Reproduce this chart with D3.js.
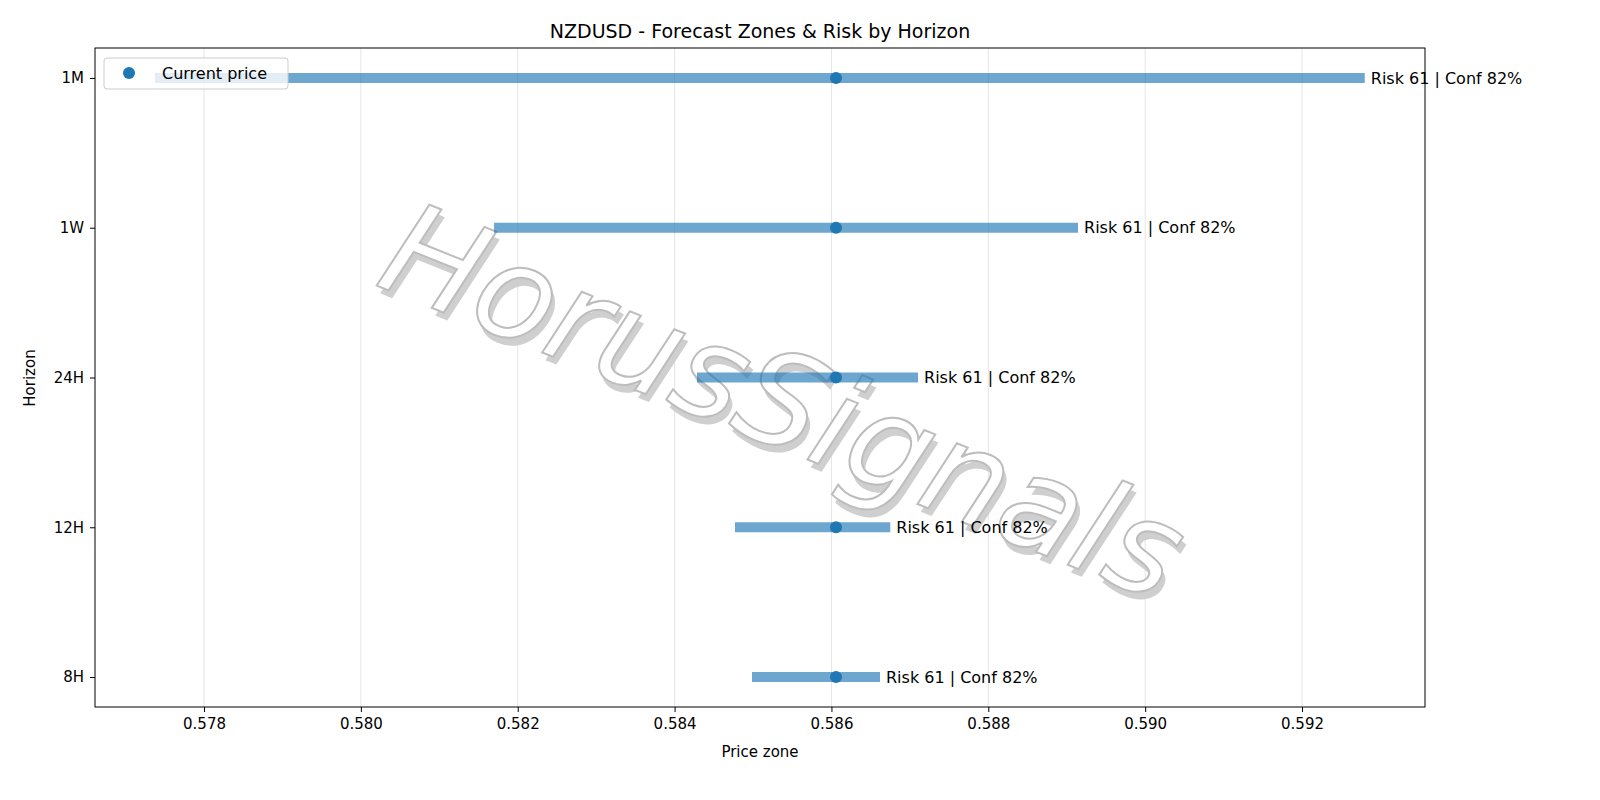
<!DOCTYPE html>
<html><head><meta charset="utf-8">
<script src="https://cdn.jsdelivr.net/npm/d3@7"></script>
<style>body{margin:0;background:#fff}text{font-family:"DejaVu Sans",sans-serif}</style>
</head><body><svg id="c" width="1600" height="800"></svg>
<script>
const horizons=["1M","1W","24H","12H","8H"];
const lows=[0.577375,0.581698,0.584286,0.58477,0.584987];
const highs=[0.5928,0.589144,0.587104,0.58675,0.586619];
const current=0.586058;
const labels=["Risk 61 | Conf 82%","Risk 61 | Conf 82%","Risk 61 | Conf 82%","Risk 61 | Conf 82%","Risk 61 | Conf 82%"];
const xTicks=[0.578,0.580,0.582,0.584,0.586,0.588,0.590,0.592];

const svg=d3.select("#c");
const L=95,R=1425,T=48,B=707;
const x=d3.scaleLinear().domain([0.57661,0.593568]).range([L,R]);
const y=d3.scaleLinear().domain([-0.2,4.2]).range([T,B]);
// grid
svg.append("g").selectAll("line").data(xTicks).join("line")
 .attr("x1",d=>x(d)).attr("x2",d=>x(d)).attr("y1",T).attr("y2",B)
 .attr("stroke","#e5e5e5").attr("stroke-width",1);
// watermark
const wm=svg.append("g").attr("transform","translate(780,410) rotate(22)");
wm.append("text").attr("x",6).attr("y",6).attr("text-anchor","middle").attr("font-size",130).attr("font-style","italic").attr("fill","#cfcfcf").attr("dominant-baseline","middle").text("HorusSignals");
wm.append("text").attr("text-anchor","middle").attr("font-size",130).attr("font-style","italic").attr("fill","#fff").attr("stroke","#bdbdbd").attr("stroke-width",2).attr("dominant-baseline","middle").text("HorusSignals");
// bars
horizons.forEach((h,i)=>{
 svg.append("line").attr("x1",x(lows[i])).attr("x2",x(highs[i])).attr("y1",y(i)).attr("y2",y(i))
  .attr("stroke","#1f77b4").attr("stroke-opacity",0.65).attr("stroke-width",10);
 svg.append("circle").attr("cx",x(current)).attr("cy",y(i)).attr("r",6).attr("fill","#1f77b4");
 svg.append("text").attr("x",x(highs[i])+6).attr("y",y(i)).attr("dy","0.35em").attr("font-size",16).text(labels[i]);
});
// frame
svg.append("rect").attr("x",L).attr("y",T).attr("width",R-L).attr("height",B-T).attr("fill","none").attr("stroke","#000");
// axes
const xa=svg.append("g").attr("transform",`translate(0,${B})`).call(d3.axisBottom(x).tickValues(xTicks).tickFormat(d3.format(".3f")).tickSize(5).tickPadding(6));
xa.select(".domain").remove();xa.selectAll("text").attr("font-size",15).attr("font-family","DejaVu Sans");
const ya=svg.append("g").attr("transform",`translate(${L},0)`).call(d3.axisLeft(y).tickValues(d3.range(horizons.length)).tickFormat(i=>horizons[i]).tickSize(5).tickPadding(6));
ya.select(".domain").remove();ya.selectAll("text").attr("font-size",15).attr("font-family","DejaVu Sans");
svg.append("text").attr("x",(L+R)/2).attr("y",38).attr("text-anchor","middle").attr("font-size",19).text("NZDUSD - Forecast Zones & Risk by Horizon");
svg.append("text").attr("x",(L+R)/2).attr("y",757).attr("text-anchor","middle").attr("font-size",15).text("Price zone");
svg.append("text").attr("transform","translate(35,378) rotate(-90)").attr("text-anchor","middle").attr("font-size",15).text("Horizon");
// legend
const lg=svg.append("g");
lg.append("rect").attr("x",104).attr("y",58).attr("width",184).attr("height",31).attr("rx",3).attr("fill","#fff").attr("fill-opacity",0.8).attr("stroke","#ccc");
lg.append("circle").attr("cx",129).attr("cy",73).attr("r",6).attr("fill","#1f77b4");
lg.append("text").attr("x",162).attr("y",73).attr("dy","0.35em").attr("font-size",16).text("Current price");
</script></body></html>
